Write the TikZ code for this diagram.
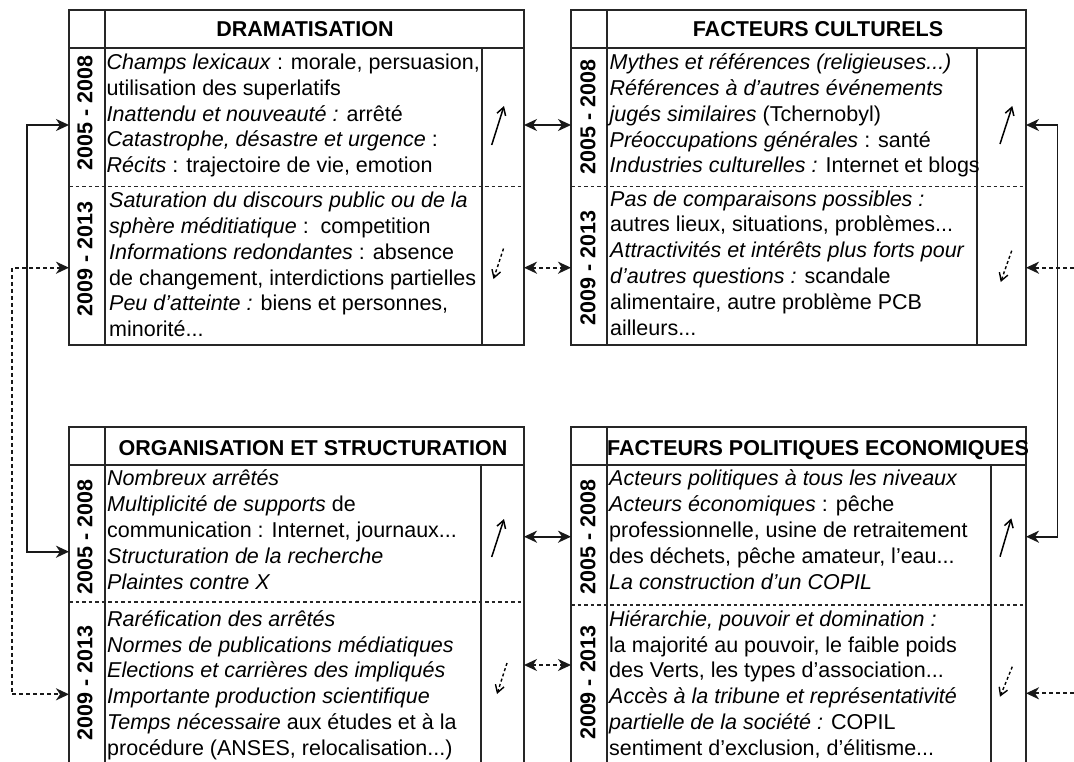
\documentclass[tikz,border=0pt]{standalone}
\usepackage{fontspec}
\setmainfont{Liberation Sans}
\usetikzlibrary{arrows.meta}
\tikzset{
  boxline/.style={line width=1.8pt, draw=black!85},
  sepline/.style={line width=1.4pt, dash pattern=on 3.5pt off 3pt, draw=black!85},
  bigtip/.tip={Stealth[length=13pt,width=12pt,inset=4pt]},
  solidconn/.style={line width=1.9pt, draw=black!90, bigtip-bigtip},
  dotconn/.style={line width=1.8pt, draw=black!90, dash pattern=on 4pt off 3pt, bigtip-bigtip},
  dotin/.style={line width=1.8pt, draw=black!90, dash pattern=on 4pt off 3pt, -bigtip},
  smallup/.style={line width=1.5pt, -{Straight Barb[length=7.5pt,width=9pt]}},
  smalldown/.style={line width=1.4pt, dash pattern=on 3pt off 2.5pt, -{Straight Barb[length=7.5pt,width=9pt]}},
  bodytext/.style={anchor=north west, align=left, inner sep=0pt, font=\fontsize{21.5}{25.8}\selectfont, execute at begin node=\strut, yshift=18.06pt},
  headtext/.style={anchor=base, inner sep=0pt, font=\fontsize{21.5}{25.8}\selectfont\bfseries},
  yeartext/.style={rotate=90, inner sep=0pt, font=\fontsize{21.5}{25.8}\selectfont\bfseries},
}
\begin{document}
\begin{tikzpicture}[x=1pt,y=-1pt]
\useasboundingbox (0,0) rectangle (1074,761);
\clip (0,0) rectangle (1074,761);

% ---------- box frames ----------
% Dramatisation
\draw[boxline] (69,10) rectangle (524,345);
\draw[boxline] (69,48.3) -- (524,48.3);
\draw[boxline] (105,10) -- (105,345);
\draw[boxline] (482,48.3) -- (482,345);
\draw[sepline] (69,186.7) -- (524,186.7);
% Facteurs culturels
\draw[boxline] (571,10) rectangle (1026,345);
\draw[boxline] (571,48.3) -- (1026,48.3);
\draw[boxline] (607,10) -- (607,345);
\draw[boxline] (977,48.3) -- (977,345);
\draw[sepline] (571,186.7) -- (1026,186.7);
% Organisation
\draw[boxline] (69,426.7) rectangle (524,800);
\draw[boxline] (69,465) -- (524,465);
\draw[boxline] (105,426.7) -- (105,800);
\draw[boxline] (481,465) -- (481,800);
\draw[sepline] (69,602) -- (524,602);
% Facteurs politiques
\draw[boxline] (571,426.7) rectangle (1026,800);
\draw[boxline] (571,465) -- (1026,465);
\draw[boxline] (607,426.7) -- (607,800);
\draw[boxline] (990.7,465) -- (990.7,800);
\draw[sepline] (571,605) -- (1026,605);

% ---------- headers ----------
\node[headtext] (hDram) at (305,36.7) {DRAMATISATION};
\node[headtext] (hCult) at (818,36.7) {FACTEURS CULTURELS};
\node[headtext] (hOrg) at (313,455.5) {ORGANISATION ET STRUCTURATION};
\node[headtext] (hPol) at (818,455.5) {FACTEURS POLITIQUES ECONOMIQUES};

% ---------- year labels ----------
\node[yeartext] (yDramA) at (85,113) {2005 - 2008};
\node[yeartext] (yDramB) at (85,259) {2009 - 2013};
\node[yeartext] (yCultA) at (588,116.7) {2005 - 2008};
\node[yeartext] (yCultB) at (588,268) {2009 - 2013};
\node[yeartext] (yOrgA) at (85,536.7) {2005 - 2008};
\node[yeartext] (yOrgB) at (85,683) {2009 - 2013};
\node[yeartext] (yPolA) at (588,536.7) {2005 - 2008};
\node[yeartext] (yPolB) at (588,682.5) {2009 - 2013};

% ---------- body texts (position = first baseline) ----------
\node[bodytext] (tDramA) at (106.5,71.7) {\textit{Champs lexicaux} : morale, persuasion,\\
utilisation des superlatifs\\
\textit{Inattendu et nouveauté :} arrêté\\
\textit{Catastrophe, désastre et urgence} :\\
\textit{Récits} : trajectoire de vie, emotion};
\node[bodytext] (tDramB) at (109,210) {\textit{Saturation du discours public ou de la}\\
\textit{sphère méditiatique} :\ \ competition\\
\textit{Informations redondantes} : absence\\
de changement, interdictions partielles\\
\textit{Peu d’atteinte :} biens et personnes,\\
minorité...};
\node[bodytext] (tCultA) at (609.5,71.7) {\textit{Mythes et références (religieuses...)}\\
\textit{Références à d’autres événements}\\
\textit{jugés similaires} (Tchernobyl)\\
\textit{Préoccupations générales} : santé\\
\textit{Industries culturelles :} Internet et blogs};
\node[bodytext] (tCultB) at (610,208.3) {\textit{Pas de comparaisons possibles :}\\
autres lieux, situations, problèmes...\\
\textit{Attractivités et intérêts plus forts pour}\\
\textit{d’autres questions :} scandale\\
alimentaire, autre problème PCB\\
ailleurs...};
\node[bodytext] (tOrgA) at (107,488) {\textit{Nombreux arrêtés}\\
\textit{Multiplicité de supports} de\\
communication : Internet, journaux...\\
\textit{Structuration de la recherche}\\
\textit{Plaintes contre X}};
\node[bodytext] (tOrgB) at (107,628.3) {\textit{Raréfication des arrêtés}\\
\textit{Normes de publications médiatiques}\\
\textit{Elections et carrières des impliqués}\\
\textit{Importante production scientifique}\\
\textit{Temps nécessaire} aux études et à la\\
procédure (ANSES, relocalisation...)};
\node[bodytext] (tPolA) at (609,488) {\textit{Acteurs politiques à tous les niveaux}\\
\textit{Acteurs économiques} : pêche\\
professionnelle, usine de retraitement\\
des déchets, pêche amateur, l’eau...\\
\textit{La construction d’un COPIL}};
\node[bodytext] (tPolB) at (609,628.3) {\textit{Hiérarchie, pouvoir et domination :}\\
la majorité au pouvoir, le faible poids\\
des Verts, les types d’association...\\
\textit{Accès à la tribune et représentativité}\\
\textit{partielle de la société :} COPIL\\
sentiment d’exclusion, d’élitisme...};

% ---------- small trend arrows ----------
\coordinate (sDramA1) at (491.7,145); \coordinate (sDramA2) at (504,106);
\coordinate (sDramB1) at (503.5,248.5); \coordinate (sDramB2) at (493.5,279);
\coordinate (sCultA1) at (1000,144); \coordinate (sCultA2) at (1012.3,106);
\coordinate (sCultB1) at (1011.7,250.7); \coordinate (sCultB2) at (1000.7,282);
\coordinate (sOrgA1) at (491.7,557); \coordinate (sOrgA2) at (504,519);
\coordinate (sOrgB1) at (507,663); \coordinate (sOrgB2) at (497,694);
\coordinate (sPolA1) at (1000,556.7); \coordinate (sPolA2) at (1011.3,518.3);
\coordinate (sPolB1) at (1012.3,666.7); \coordinate (sPolB2) at (1000,696.7);
\draw[smallup] (sDramA1) -- (sDramA2);
\draw[smalldown] (sDramB1) -- (sDramB2);
\draw[smallup] (sCultA1) -- (sCultA2);
\draw[smalldown] (sCultB1) -- (sCultB2);
\draw[smallup] (sOrgA1) -- (sOrgA2);
\draw[smalldown] (sOrgB1) -- (sOrgB2);
\draw[smallup] (sPolA1) -- (sPolA2);
\draw[smalldown] (sPolB1) -- (sPolB2);

% ---------- connector end points ----------
\coordinate (dramLs) at (69,125);   \coordinate (dramRs) at (524,125);
\coordinate (dramLd) at (69,267.7); \coordinate (dramRd) at (524,267.7);
\coordinate (cultLs) at (571,125);  \coordinate (cultRs) at (1026,125);
\coordinate (cultLd) at (571,267.7);\coordinate (cultRd) at (1026,267.7);
\coordinate (orgLs) at (69,551.7);  \coordinate (orgRs) at (524,536.7);
\coordinate (orgLd) at (69,694.3);  \coordinate (orgRd) at (524,665);
\coordinate (polLs) at (571,536.7); \coordinate (polRs) at (1026,536.7);
\coordinate (polLd) at (571,665);   \coordinate (polRd) at (1026,693.3);
\coordinate (lsTop) at (26.7,125);
\coordinate (ldTop) at (11.7,267.7);
\coordinate (rsTop) at (1057.5,125);
\coordinate (rdEdgeA) at (1074,267.7);
\coordinate (rdEdgeB) at (1074,693.3);

% ---------- connectors ----------
\draw[solidconn] (dramLs) -- (lsTop) |- (orgLs);
\draw[dotconn] (dramLd) -- (ldTop) |- (orgLd);
\draw[solidconn] (dramRs) -- (cultLs);
\draw[dotconn] (dramRd) -- (cultLd);
\draw[solidconn] (orgRs) -- (polLs);
\draw[dotconn] (orgRd) -- (polLd);
\draw[solidconn] (cultRs) -- (rsTop) |- (polRs);
\draw[dotin] (rdEdgeA) -- (cultRd);
\draw[dotin] (rdEdgeB) -- (polRd);
\end{tikzpicture}
\end{document}
